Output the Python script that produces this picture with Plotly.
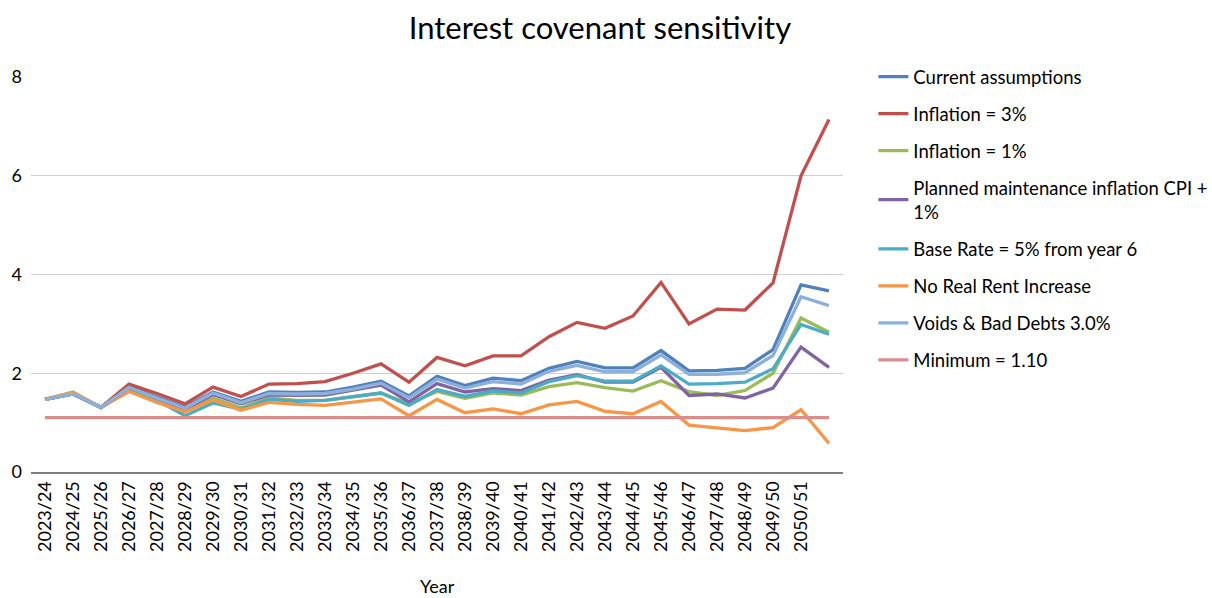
import plotly.graph_objects as go

years = ["2023/24", "2024/25", "2025/26", "2026/27", "2027/28", "2028/29", "2029/30",
         "2030/31", "2031/32", "2032/33", "2033/34", "2034/35", "2035/36", "2036/37",
         "2037/38", "2038/39", "2039/40", "2040/41", "2041/42", "2042/43", "2043/44",
         "2044/45", "2045/46", "2046/47", "2047/48", "2048/49", "2049/50", "2050/51", ""]

current = [1.47, 1.58, 1.31, 1.73, 1.52, 1.31, 1.62, 1.43, 1.62, 1.61, 1.62, 1.72, 1.84, 1.54,
           1.94, 1.75, 1.90, 1.85, 2.10, 2.24, 2.11, 2.11, 2.46, 2.05, 2.06, 2.10, 2.48, 3.79, 3.67]
infl_3 = [1.47, 1.58, 1.31, 1.78, 1.59, 1.38, 1.72, 1.53, 1.78, 1.79, 1.83, 2.00, 2.19, 1.82,
          2.32, 2.15, 2.35, 2.35, 2.74, 3.03, 2.91, 3.16, 3.84, 3.00, 3.30, 3.28, 3.83, 6.00, 7.14]
infl_1 = [1.47, 1.62, 1.30, 1.66, 1.42, 1.22, 1.50, 1.30, 1.50, 1.45, 1.45, 1.52, 1.60, 1.38,
          1.63, 1.49, 1.60, 1.56, 1.73, 1.81, 1.71, 1.64, 1.85, 1.63, 1.55, 1.65, 2.00, 3.12, 2.83]
planned_maint = [1.47, 1.58, 1.31, 1.70, 1.48, 1.27, 1.57, 1.38, 1.56, 1.55, 1.56, 1.66, 1.76, 1.42,
                 1.79, 1.62, 1.69, 1.65, 1.86, 1.97, 1.82, 1.82, 2.12, 1.55, 1.58, 1.50, 1.70, 2.53, 2.12]
base_rate = [1.47, 1.58, 1.30, 1.72, 1.45, 1.14, 1.40, 1.27, 1.47, 1.43, 1.45, 1.52, 1.60, 1.35,
             1.67, 1.53, 1.64, 1.60, 1.83, 1.95, 1.84, 1.84, 2.15, 1.78, 1.79, 1.82, 2.09, 2.99, 2.79]
no_real_rent = [1.47, 1.61, 1.31, 1.63, 1.41, 1.22, 1.46, 1.25, 1.41, 1.37, 1.35, 1.41, 1.48, 1.14,
                1.47, 1.20, 1.28, 1.18, 1.36, 1.43, 1.23, 1.18, 1.43, 0.95, 0.89, 0.84, 0.90, 1.26, 0.58]
voids = [1.47, 1.58, 1.31, 1.71, 1.50, 1.29, 1.60, 1.40, 1.59, 1.58, 1.59, 1.68, 1.80, 1.50,
         1.88, 1.70, 1.83, 1.78, 2.04, 2.16, 2.03, 2.03, 2.37, 1.98, 1.98, 2.01, 2.36, 3.55, 3.37]
minimum = [1.10] * len(years)

series = [
    ("Current assumptions", current, "#4F81BD"),
    ("Inflation = 3%", infl_3, "#C0504D"),
    ("Inflation = 1%", infl_1, "#9BBB59"),
    ("Planned maintenance inflation CPI +<br>1%", planned_maint, "#8064A2"),
    ("Base Rate = 5% from year 6", base_rate, "#4BACC6"),
    ("No Real Rent Increase", no_real_rent, "#F79646"),
    ("Voids & Bad Debts 3.0%", voids, "#8DB0DB"),
    ("Minimum = 1.10", minimum, "#D98E8C"),
]

x_idx = list(range(len(years)))

fig = go.Figure()
for i, (name, vals, color) in enumerate(series):
    fig.add_trace(go.Scatter(
        x=x_idx, y=vals, name=name, mode="lines",
        line=dict(color=color, width=3.3),
        legendgroup=f"g{i}",
    ))

font_family = "Lato, Carlito, 'Liberation Sans', sans-serif"

fig.update_layout(
    width=1212, height=598,
    margin=dict(l=31, r=369, t=77, b=126),
    paper_bgcolor="white", plot_bgcolor="white",
    font=dict(family=font_family, color="#000000", size=18),
    title=dict(text="Interest covenant sensitivity", x=0.495, xanchor="center",
               y=0.953, yanchor="middle", font=dict(size=31, color="#000000")),
    legend=dict(xref="container", yref="container",
                x=0.7206, xanchor="left", y=0.903, yanchor="top",
                font=dict(size=18.5, color="#000000"),
                traceorder="grouped", tracegroupgap=10, itemwidth=30,
                maxheight=560),
    showlegend=True,
    annotations=[dict(text="Year", xref="paper", yref="paper", x=0.5, y=-0.288,
                      xanchor="center", yanchor="middle", showarrow=False,
                      font=dict(size=18, color="#000000"))],
)

fig.update_xaxes(
    range=[-0.5, len(years) - 0.5],
    tickmode="array", tickvals=x_idx[:-1], ticktext=years[:-1],
    tickangle=-90, tickfont=dict(size=18),
    showgrid=False, zeroline=False,
    showline=True, linecolor="#7F7F7F", linewidth=2,
    ticks="", automargin=False,
)
fig.update_yaxes(
    range=[0, 8], tickvals=[0, 2, 4, 6, 8],
    tickfont=dict(size=18), ticklabelstandoff=8,
    showgrid=True, gridcolor="#D0D0D0", gridwidth=1.3,
    zeroline=False, showline=False, ticks="", automargin=False,
)

fig.write_html("out.html")
